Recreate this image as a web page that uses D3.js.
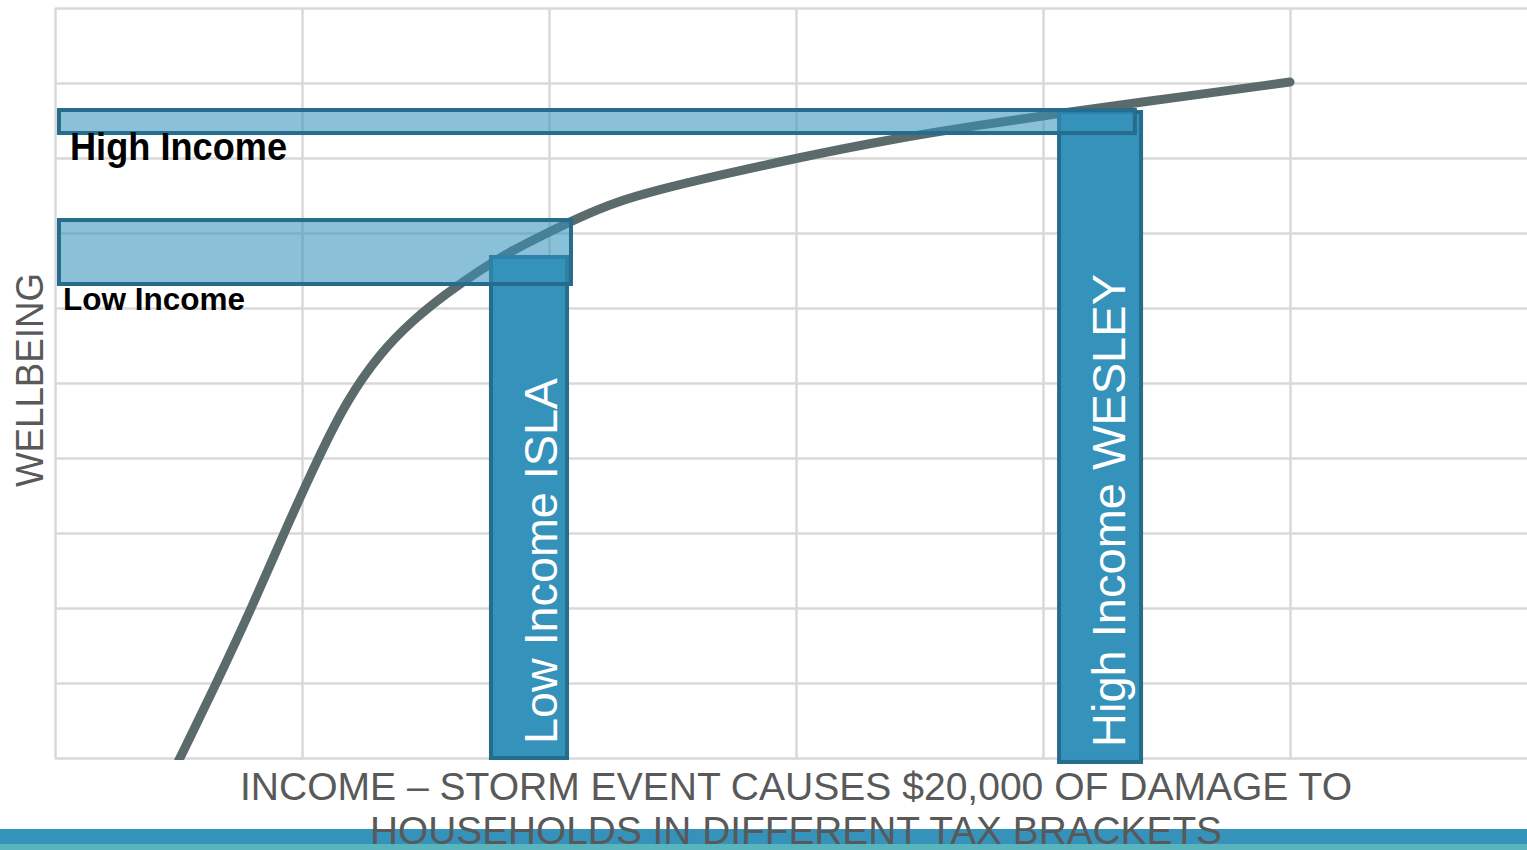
<!DOCTYPE html>
<html>
<head>
<meta charset="utf-8">
<script src="https://cdn.jsdelivr.net/npm/d3@7/dist/d3.min.js"></script>
<style>
  html, body { margin: 0; padding: 0; background: #ffffff; overflow: hidden; }
  svg { display: block; }
  text { font-family: "Liberation Sans", Arial, Helvetica, sans-serif; }
</style>
</head>
<body>
<svg id="chart" width="1527" height="850"></svg>
<script>
// Wellbeing as a function of income (arbitrary units: income 0..6, wellbeing 0..10)
const curveIncome    = [0.498, 0.506, 0.654, 0.796, 0.927, 1.065, 1.182, 1.316, 1.449, 1.587, 1.721, 1.854, 1.992, 2.126, 2.259, 2.437, 2.692, 3.004, 3.377, 3.769, 4.065, 4.36, 5.0];
const curveWellbeing = [-0.053, 0.0, 1.0, 2.0, 3.0, 4.0, 4.773, 5.4, 5.84, 6.2, 6.507, 6.773, 7.0, 7.213, 7.4, 7.573, 7.773, 8.0, 8.247, 8.453, 8.593, 8.727, 9.013];

// Households: income bracket (bar extent) and wellbeing reached
const households      = ["Low Income ISLA", "High Income WESLEY"];
const householdFrom   = [1.765, 4.065];
const householdTo     = [2.073, 4.397];
const householdTop    = [6.68, 8.613];
const householdBottom = [0.0, -0.053];

// Wellbeing lost after the storm damage, per household
const lossLabels   = ["Low Income", "High Income"];
const lossIncomeTo = [2.089, 4.372];
const lossUpper    = [7.173, 8.64];
const lossLower    = [6.32, 8.333];

// Grid ticks
const incomeTicks    = [0, 1, 2, 3, 4, 5, 6];
const wellbeingTicks = [0, 1, 2, 3, 4, 5, 6, 7, 8, 9, 10];

const xTitleLines = ["INCOME \u2013 STORM EVENT CAUSES $20,000 OF DAMAGE TO", "HOUSEHOLDS IN DIFFERENT TAX BRACKETS"];
const yTitle = "WELLBEING";

const svg = d3.select("#chart");
const W = 1527, H = 850;

const x = d3.scaleLinear().domain([0, 6]).range([55, 1537]);
const y = d3.scaleLinear().domain([0, 10]).range([758, 8]);

// Grid
const grid = svg.append("g").attr("class", "grid");
grid.append("g")
  .attr("transform", `translate(0,${y(0)})`)
  .call(d3.axisBottom(x).tickValues(incomeTicks).tickSize(-(y(0) - y(10))).tickFormat(""))
  .call(g => g.select(".domain").remove())
  .call(g => g.selectAll("line").attr("stroke", "#d9d9d9").attr("stroke-width", 2.5));
grid.append("g")
  .attr("transform", `translate(${x(0)},0)`)
  .call(d3.axisLeft(y).tickValues(wellbeingTicks).tickSize(-(x(6) - x(0))).tickFormat(""))
  .call(g => g.select(".domain").remove())
  .call(g => g.selectAll("line").attr("stroke", "#d9d9d9").attr("stroke-width", 2.5));

// Wellbeing curve (smoothed through the sampled points)
svg.append("clipPath").attr("id", "plotClip")
  .append("rect").attr("x", 0).attr("y", 0).attr("width", W).attr("height", 760);

const curveData = curveIncome.map((v, i) => [v, curveWellbeing[i]]);
svg.append("path")
  .datum(curveData)
  .attr("clip-path", "url(#plotClip)")
  .attr("fill", "none")
  .attr("stroke", "#5b6b6b")
  .attr("stroke-width", 9)
  .attr("stroke-linecap", "round")
  .attr("stroke-linejoin", "round")
  .attr("d", d3.line().x(d => x(d[0])).y(d => y(d[1])).curve(d3.curveBasis));

// Household bars
const barColor = "#3592bb", barStroke = "#266c8c";
const bars = svg.append("g");
households.forEach((name, i) => {
  bars.append("rect")
    .attr("x", x(householdFrom[i]))
    .attr("y", y(householdTop[i]))
    .attr("width", x(householdTo[i]) - x(householdFrom[i]))
    .attr("height", y(householdBottom[i]) - y(householdTop[i]))
    .attr("fill", barColor)
    .attr("stroke", barStroke)
    .attr("stroke-width", 4);
});

// Wellbeing loss bands
lossLabels.forEach((name, i) => {
  svg.append("rect")
    .attr("x", x(0.016))
    .attr("y", y(lossUpper[i]))
    .attr("width", x(lossIncomeTo[i]) - x(0.016))
    .attr("height", y(lossLower[i]) - y(lossUpper[i]))
    .attr("fill", barColor)
    .attr("fill-opacity", 0.574)
    .attr("stroke", barStroke)
    .attr("stroke-width", 4);
});

// Band labels
svg.append("text")
  .attr("x", 70).attr("y", 160)
  .attr("font-size", 39).attr("font-weight", "bold").attr("fill", "#000")
  .attr("textLength", 217).attr("lengthAdjust", "spacingAndGlyphs")
  .text(lossLabels[1]);
svg.append("text")
  .attr("x", 63).attr("y", 310)
  .attr("font-size", 32).attr("font-weight", "bold").attr("fill", "#000")
  .attr("textLength", 182).attr("lengthAdjust", "spacingAndGlyphs")
  .text(lossLabels[0]);

// Household bar labels (vertical)
const barLabelPos = [{bx: 557, cy: 561, len: 366}, {bx: 1125, cy: 510.5, len: 473}];
households.forEach((name, i) => {
  const p = barLabelPos[i];
  svg.append("text")
    .attr("transform", `translate(${p.bx},${p.cy}) rotate(-90)`)
    .attr("text-anchor", "middle")
    .attr("font-size", 47).attr("fill", "#ffffff")
    .attr("textLength", p.len).attr("lengthAdjust", "spacingAndGlyphs")
    .text(name);
});

// Footer stripe
svg.append("rect").attr("x", 0).attr("y", 829).attr("width", W).attr("height", 15).attr("fill", "#3592bb");
svg.append("rect").attr("x", 0).attr("y", 844).attr("width", W).attr("height", 6).attr("fill", "#59b5bd");

// Axis titles
svg.append("text")
  .attr("x", 796).attr("y", 800)
  .attr("text-anchor", "middle")
  .attr("font-size", 39).attr("fill", "#595959")
  .attr("textLength", 1112).attr("lengthAdjust", "spacingAndGlyphs")
  .text(xTitleLines[0]);
svg.append("text")
  .attr("x", 796).attr("y", 844)
  .attr("text-anchor", "middle")
  .attr("font-size", 39).attr("fill", "#595959")
  .attr("textLength", 852).attr("lengthAdjust", "spacingAndGlyphs")
  .text(xTitleLines[1]);

svg.append("text")
  .attr("transform", "translate(43,380) rotate(-90)")
  .attr("text-anchor", "middle")
  .attr("font-size", 38).attr("fill", "#595959")
  .attr("textLength", 214).attr("lengthAdjust", "spacingAndGlyphs")
  .text(yTitle);
</script>
</body>
</html>
